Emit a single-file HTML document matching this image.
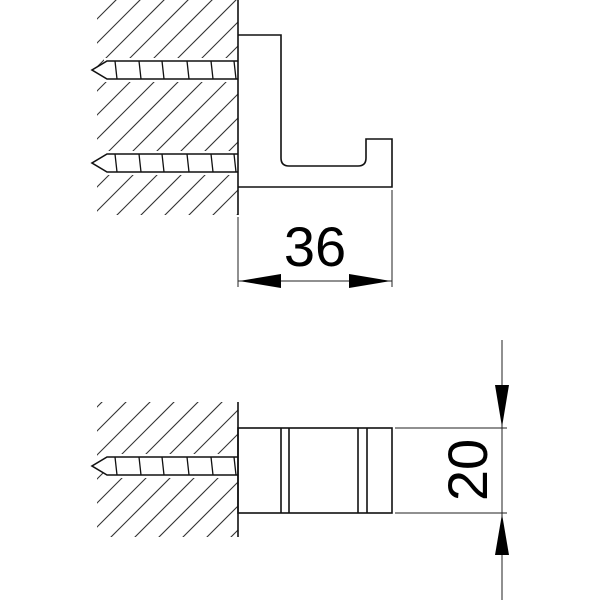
<!DOCTYPE html>
<html><head><style>body{margin:0;background:#fff}svg{display:block}</style></head><body>
<svg width="600" height="600" viewBox="0 0 600 600" xmlns="http://www.w3.org/2000/svg">
<defs>
<clipPath id="c1"><rect x="97" y="0" width="141" height="215"/></clipPath>
<clipPath id="c2"><rect x="97" y="402" width="141" height="135"/></clipPath>
<g id="hat" stroke="#333" stroke-width="1.1">
<line x1="-216" y1="300" x2="84" y2="0"/><line x1="-192" y1="300" x2="108" y2="0"/><line x1="-168" y1="300" x2="132" y2="0"/><line x1="-144" y1="300" x2="156" y2="0"/><line x1="-120" y1="300" x2="180" y2="0"/><line x1="-96" y1="300" x2="204" y2="0"/><line x1="-72" y1="300" x2="228" y2="0"/><line x1="-48" y1="300" x2="252" y2="0"/><line x1="-24" y1="300" x2="276" y2="0"/><line x1="0" y1="300" x2="300" y2="0"/><line x1="24" y1="300" x2="324" y2="0"/><line x1="48" y1="300" x2="348" y2="0"/><line x1="72" y1="300" x2="372" y2="0"/><line x1="96" y1="300" x2="396" y2="0"/><line x1="120" y1="300" x2="420" y2="0"/><line x1="144" y1="300" x2="444" y2="0"/><line x1="168" y1="300" x2="468" y2="0"/><line x1="192" y1="300" x2="492" y2="0"/><line x1="216" y1="300" x2="516" y2="0"/><line x1="240" y1="300" x2="540" y2="0"/>
</g>
<g id="screw" stroke="#111" stroke-width="1.6" fill="#fff">
<rect x="104" y="-12" width="134" height="24" fill="#fff" stroke="none"/>
<path d="M238,-9 H107 L92,0 L107,9 H238" fill="#fff"/>
<path d="M115,-9 l2,18 M139,-9 l2,18 M162,-9 l2,18 M187,-9 l2,18 M211,-9 l2,18 M234,-9 l2,18" fill="none" stroke-width="1.3"/>
</g>
</defs>
<g clip-path="url(#c1)"><use href="#hat" transform="translate(0,-40)"/></g>
<g clip-path="url(#c2)"><use href="#hat" transform="translate(0,300)"/></g>
<use href="#screw" transform="translate(0,70)"/>
<use href="#screw" transform="translate(0,163)"/>
<use href="#screw" transform="translate(0,466)"/>
<g stroke="#111" stroke-width="1.6" fill="none">
<line x1="238" y1="0" x2="238" y2="215"/>
<path d="M238,35 H281 V158 Q281,166 289,166 H358 Q366,166 366,158 V139 H392 V187 H238"/>
<line x1="238" y1="402" x2="238" y2="537"/>
<rect x="238" y="428" width="154" height="85"/>
<line x1="281" y1="428" x2="281" y2="513"/><line x1="289" y1="428" x2="289" y2="513"/>
<line x1="358" y1="428" x2="358" y2="513"/><line x1="367" y1="428" x2="367" y2="513"/>
</g>
<g stroke="#222" stroke-width="1" fill="none">
<line x1="238" y1="217" x2="238" y2="287"/><line x1="392" y1="190" x2="392" y2="287"/>
<line x1="238" y1="281" x2="392" y2="281"/>
<line x1="395" y1="428" x2="507" y2="428"/><line x1="395" y1="513" x2="507" y2="513"/>
<line x1="502" y1="340" x2="502" y2="600"/>
</g>
<g fill="#000">
<path d="M239,281 L281,274 L281,288 Z"/><path d="M391,281 L349,274 L349,288 Z"/>
<path d="M502,427 L495,385 L509,385 Z"/><path d="M502,514 L495,555 L509,555 Z"/>
</g>
<text x="315" y="266" font-family="Liberation Sans, sans-serif" font-size="56" text-anchor="middle">36</text>
<text transform="translate(487,470) rotate(-90)" font-family="Liberation Sans, sans-serif" font-size="56" text-anchor="middle">20</text>
</svg>
</body></html>
